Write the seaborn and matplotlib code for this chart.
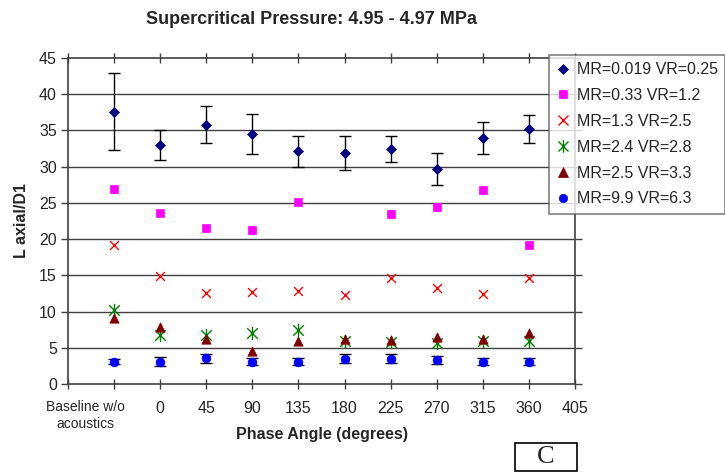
import numpy as np
import pandas as pd
import matplotlib
matplotlib.use("Agg")
import matplotlib.pyplot as plt
from matplotlib.path import Path
from matplotlib.lines import Line2D
from matplotlib.patches import Rectangle
import seaborn as sns

# ---------------- data ----------------
phase = [-45, 0, 45, 90, 135, 180, 225, 270, 315, 360]   # -45 = baseline w/o acoustics
tick_values = [-90, -45, 0, 45, 90, 135, 180, 225, 270, 315, 360, 405]
tick_labels = ["", "", "0", "45", "90", "135", "180", "225", "270", "315", "360", "405"]
baseline_label = "Baseline w/o\nacoustics"

series_names = ["MR=0.019 VR=0.25", "MR=0.33 VR=1.2", "MR=1.3 VR=2.5",
                "MR=2.4 VR=2.8", "MR=2.5 VR=3.3", "MR=9.9 VR=6.3"]

mr019 = [37.6, 33.0, 35.8, 34.5, 32.1, 31.9, 32.5, 29.7, 33.9, 35.2]
mr019_err = [5.3, 2.1, 2.6, 2.8, 2.1, 2.3, 1.8, 2.2, 2.2, 2.0]
mr033 = [26.9, 23.6, 21.6, 21.3, 25.1, np.nan, 23.4, 24.5, 26.8, 19.2]
mr13 = [19.2, 14.9, 12.5, 12.7, 12.9, 12.3, 14.6, 13.3, 12.4, 14.6]
mr24 = [10.2, 6.7, 6.8, 7.1, 7.5, 5.9, 5.8, 5.7, 5.9, 5.9]
mr25 = [9.1, 7.9, 6.2, 4.5, 5.9, 6.2, 6.1, 6.5, 6.2, 7.1]
mr99 = [3.1, 3.1, 3.55, 3.1, 3.1, 3.5, 3.5, 3.3, 3.1, 3.1]
mr99_err = [0.4, 0.65, 0.65, 0.5, 0.5, 0.6, 0.6, 0.6, 0.5, 0.5]

values = [mr019, mr033, mr13, mr24, mr25, mr99]

df = pd.DataFrame({
    "phase": phase * len(series_names),
    "value": sum(values, []),
    "series": [n for n in series_names for _ in phase],
})

# ---------------- style ----------------
sns.set_style("white")
plt.rcParams["font.family"] = ["Liberation Sans", "DejaVu Sans"]

asterisk = Path(
    [(-1, -1), (1, 1), (-1, 1), (1, -1), (0, -1.25), (0, 1.25)],
    [Path.MOVETO, Path.LINETO, Path.MOVETO, Path.LINETO, Path.MOVETO, Path.LINETO],
)

styles = {
    "MR=0.019 VR=0.25": dict(marker="D", color="#000080", s=26),
    "MR=0.33 VR=1.2": dict(marker="s", color="#FF00FF", s=30),
    "MR=1.3 VR=2.5": dict(marker="x", color="#FF0000", s=40),
    "MR=2.4 VR=2.8": dict(marker=asterisk, color="#008000", s=90),
    "MR=2.5 VR=3.3": dict(marker="^", color="#800000", s=45),
    "MR=9.9 VR=6.3": dict(marker="o", color="#0000FF", s=40),
}

fig = plt.figure(figsize=(7.25, 4.72), dpi=100)
ax = fig.add_axes([68 / 725, 1 - 384 / 472, (575 - 68) / 725, (384 - 58) / 472])

grid_c = "#404040"
ax.set_ylim(0, 45)
ax.set_xlim(-90, 405)
ax.set_yticks(np.arange(0, 46, 5))
for yv in np.arange(5, 45, 5):
    ax.axhline(yv, color=grid_c, lw=1.0, zorder=0)

# error bars
ax.errorbar(phase, mr019, yerr=mr019_err, fmt="none", ecolor="black",
            elinewidth=1.0, capsize=4, capthick=1.0, zorder=2)
ax.errorbar(phase, mr99, yerr=mr99_err, fmt="none", ecolor="black",
            elinewidth=1.0, capsize=4, capthick=1.0, zorder=2)

for name in series_names:
    st = styles[name]
    sub = df[df["series"] == name]
    kw = dict(linewidth=1.0, edgecolor=st["color"])
    if isinstance(st["marker"], str) and st["marker"] != "x":
        kw["linewidth"] = 0.5
    sns.scatterplot(data=sub, x="phase", y="value", marker=st["marker"],
                    color=st["color"], s=st["s"], ax=ax, legend=False,
                    zorder=3, **kw)

# axes cosmetics
for sp in ax.spines.values():
    sp.set_color(grid_c)
    sp.set_linewidth(1.2)
ax.set_xticks(tick_values)
ax.set_xticklabels(tick_labels)
ax.tick_params(axis="x", bottom=True, top=True, direction="inout", length=7,
               width=1, color=grid_c, labelsize=11.5, pad=9)
ax.tick_params(axis="y", left=True, right=True, direction="out", length=5,
               width=1, color=grid_c, labelsize=11.5, pad=3)
ax.set_xlabel("Phase Angle (degrees)", fontsize=11.5, fontweight="bold", labelpad=8)
ax.set_ylabel("L axial/D1", fontsize=11.5, fontweight="bold", labelpad=7.5)
ax.text(-73, -0.05, baseline_label, transform=ax.get_xaxis_transform(),
        ha="center", va="top", fontsize=10, linespacing=1.25)

fig.text(311 / 725, 1 - 19 / 472, "Supercritical Pressure: 4.95 - 4.97 MPa",
         ha="center", va="center", fontsize=13, fontweight="bold")

# legend
handles = []
for name in series_names:
    st = styles[name]
    key = st["marker"] if isinstance(st["marker"], str) else "*"
    ms = {"D": 5, "s": 6, "x": 7, "^": 7, "o": 6, "*": 9}[key]
    mew = 1.0 if key in ("x", "*") else 0.5
    handles.append(Line2D([], [], linestyle="none", marker=st["marker"], color=st["color"],
                          markersize=ms, markeredgewidth=mew, label=name))
leg = fig.legend(handles=handles, loc="upper left", bbox_to_anchor=(549 / 725, 1 - 55 / 472),
                 bbox_transform=fig.transFigure, frameon=True, fancybox=False,
                 fontsize=11.5, labelspacing=0.68, handlelength=0.8, handletextpad=0.5,
                 borderpad=0.45, borderaxespad=0)
leg.get_frame().set_edgecolor("#606060")
leg.get_frame().set_linewidth(1.2)

# "C" box
fig.patches.append(Rectangle((515 / 725, 1 - 471 / 472), 62 / 725, 28 / 472,
                             transform=fig.transFigure, fill=False,
                             edgecolor="black", linewidth=1.2))
fig.text(546 / 725, 1 - 457 / 472, "C", ha="center", va="center",
         fontsize=19, family=["Liberation Serif", "DejaVu Serif"])

fig.savefig("out.png", dpi=100)
